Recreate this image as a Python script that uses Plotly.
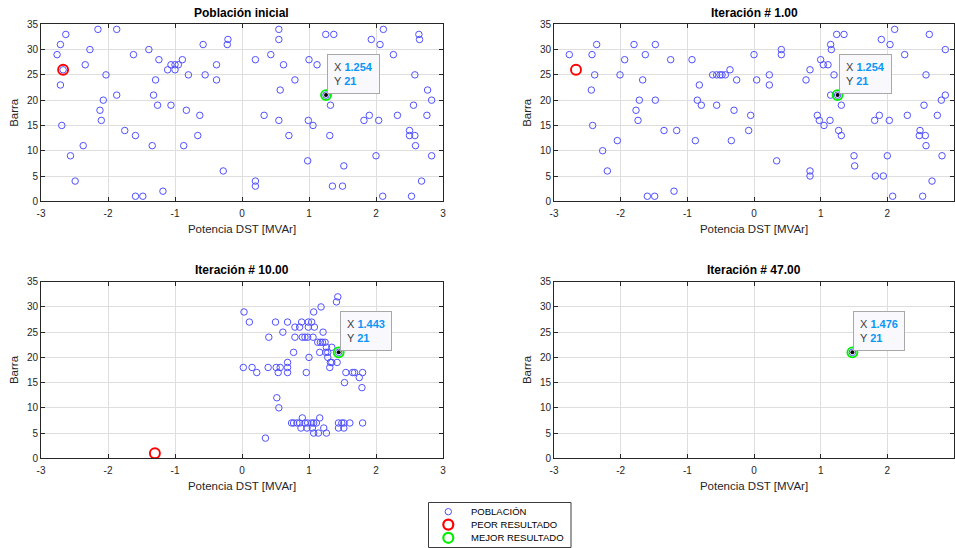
import plotly.graph_objects as go

FONT = "Arial, 'Liberation Sans', Helvetica, sans-serif"
W, H = 955, 548

# ---------------- data ----------------
titles = ["Población inicial", "Iteración # 1.00", "Iteración # 10.00", "Iteración # 47.00"]

# Población inicial
pop0_x = [-2.63, -2.71, -2.76, -2.27, -2.15, -1.87, -2.67, -2.34, -2.03, -2.71, -2.07, -1.87,
          -2.12, -2.10, -2.69, -1.75, -1.59, -2.37, -2.56, -2.49, -1.59, -1.48, -1.18, -1.62,
          -1.39, -1.24, -1.29, -1.32, -1.26, -1.06, -1.34, -1.11, -1.06, -1.00, -1.00, -0.95,
          -0.89, -0.80, -0.83, -0.87, -0.63, -0.66, -0.58, -0.55, -0.38, -0.38, -0.21, -0.22,
          -0.28,
          0.55, 0.55, 0.20, 0.43, 0.62, 0.79, 0.57, 1.00, 1.12, 1.25, 1.37, 1.254, 1.32, 0.33,
          0.55, 0.99, 1.06, 0.70, 1.31, 0.98, 1.52, 0.20, 0.20, 1.35, 1.50, 2.11, 1.93, 2.06,
          2.26, 2.64, 2.65, 2.58, 2.77, 2.83, 2.56, 2.76, 1.90, 1.82, 2.04, 2.32, 2.50, 2.50,
          2.58, 2.59, 2.00, 2.83, 2.68, 2.10, 2.53]
pop0_y = [33, 31, 29, 30, 34, 34, 26, 27, 25, 23, 20, 21,
          18, 16, 15, 14, 13, 11, 9, 4, 1, 1, 2, 29,
          30, 28, 24, 21, 19, 19, 11, 26, 27, 26, 27, 27,
          28, 25, 18, 11, 17, 13, 31, 25, 27, 24, 32, 31,
          6,
          34, 32, 28, 29, 27, 24, 22, 28, 27, 33, 33, 21, 19, 17,
          16, 16, 15, 13, 13, 8, 7, 4, 3, 3, 3, 34, 32, 31,
          29, 33, 32, 25, 22, 20, 19, 17, 17, 16, 16, 17, 14, 13,
          13, 11, 9, 9, 4, 1, 1]

# Iteración # 1
pop1_x = [-2.77, -2.43, -2.36, -2.39, -2.44, -2.42, -2.27, -2.20, -2.05, -2.01, -1.94, -1.80,
          -1.63, -1.48, -1.67, -1.72, -1.77, -1.74, -1.48, -1.35, -1.16, -1.60, -1.49, -1.20,
          -1.25, -0.93, -0.88, -0.82, -0.85, -0.79, -0.62, -0.56, -0.51, -0.48, -0.43, -0.36,
          -0.26, -0.56, -0.30, -0.34,
          -0.08, -0.05, 0.00, 0.04, 0.23, 0.23, 0.34, 0.41, 0.41, 0.78, 0.84, 0.84, 0.84, 0.95,
          0.98, 1.05, 1.14, 1.00, 1.04, 1.11, 1.20, 1.15, 1.16, 1.24, 1.35, 1.15, 1.254, 1.31,
          1.27, 1.31, 1.50, 1.51, 1.81, 1.88, 2.03, 1.82, 1.94, 2.00, 1.91, 2.04, 2.11, 2.26,
          2.30, 2.49, 2.48, 2.57, 2.58, 2.55, 2.58, 2.63, 2.67, 2.53, 2.08, 2.75, 2.81, 2.87,
          2.82, 2.87]
pop1_y = [29, 29, 31, 25, 22, 15, 10, 6, 12, 25, 28, 31,
          29, 31, 24, 20, 18, 16, 20, 14, 14, 1, 1, 2,
          28, 28, 12, 23, 20, 19, 25, 25, 25, 25, 25, 26,
          24, 19, 18, 12,
          14, 17, 29, 24, 25, 23, 8, 30, 29, 24, 26, 6, 5, 17,
          16, 15, 16, 28, 27, 27, 25, 31, 30, 33, 33, 21, 21, 19,
          14, 13, 9, 7, 16, 17, 16, 5, 5, 9, 32, 31, 34, 29,
          17, 14, 13, 13, 11, 19, 25, 33, 4, 1, 1, 17, 20, 21,
          9, 30]

# Iteración # 10
pop10_x = [1.43, 1.41, 1.18, 1.07, 0.03, 0.11, 0.50, 0.68, 0.89, 0.99, 1.04, 0.79,
           0.86, 0.99, 1.08, 0.61, 1.21, 0.40, 0.79, 0.90, 0.94, 0.98, 1.06, 1.13,
           1.17, 1.20, 1.24, 1.26, 1.34, 0.77, 1.16, 1.25, 1.28, 1.443, 1.00, 1.28,
           1.32, 1.34, 1.42, 1.31, 0.02, 0.15, 0.22, 0.39, 0.51, 0.57, 0.68, 0.68,
           0.54, 0.68, 0.96, 1.55, 1.65, 1.68, 1.80, 1.75, 1.53, 1.79, 0.52, 0.55,
           0.74, 0.77, 0.82, 0.86, 0.90, 0.94, 0.98, 1.04, 1.07, 1.11, 1.16, 0.88,
           0.97, 1.05, 1.22, 1.07, 1.14, 1.26, 1.44, 1.49, 1.52, 1.61, 1.80, 1.44,
           1.52, 0.35]
pop10_y = [32, 31, 30, 29, 29, 27, 27, 27, 27, 27, 27, 26,
           26, 26, 26, 25, 25, 24, 24, 24, 24, 24, 24, 23,
           23, 23, 23, 22, 22, 21, 21, 21, 21, 21, 20, 20,
           19, 19, 19, 18, 18, 18, 17, 18, 18, 18, 18, 19,
           17, 17, 17, 17, 17, 17, 17, 16, 15, 14, 12, 10,
           7, 7, 7, 7, 8, 7, 7, 7, 7, 7, 8, 6,
           6, 6, 6, 5, 5, 5, 7, 7, 7, 7, 7, 6,
           6, 4]

# Iteración # 47
pop47_x = [1.476]
pop47_y = [21]

pop_x = [pop0_x, pop1_x, pop10_x, pop47_x]
pop_y = [pop0_y, pop1_y, pop10_y, pop47_y]

worst_x = [[-2.67], [-2.67], [-1.30], []]
worst_y = [[26], [26], [1], []]
best_x = [1.254, 1.254, 1.443, 1.476]
best_y = [21, 21, 21, 21]

x_ticks = [-3, -2, -1, 0, 1, 2, 3]
y_ticks = [0, 5, 10, 15, 20, 25, 30, 35]

legend_labels = ["POBLACIÓN", "PEOR RESULTADO", "MEJOR RESULTADO"]

# ---------------- styles ----------------
BLUE = "rgb(80,80,255)"
RED = "rgb(255,0,0)"
GREEN = "rgb(0,240,0)"
TIPBLUE = "#0a96f5"
AXC = "#262626"
GRIDC = "#dedede"

# pixel boxes of the four axes: (left, right, top, bottom)
boxes = [(41, 443, 24.3, 201.3), (554, 954, 24.3, 201.3),
         (41, 443, 281.7, 458.3), (554, 954, 281.7, 458.3)]

fig = go.Figure()
layout = dict(width=W, height=H,
              margin=dict(l=0, r=0, t=0, b=0, pad=0, autoexpand=False),
              paper_bgcolor="white", plot_bgcolor="white", showlegend=False,
              font=dict(family=FONT, size=10, color=AXC))
annotations = []
shapes = []

for i in range(4):
    sfx = "" if i == 0 else str(i + 1)
    xa, ya = "x" + sfx, "y" + sfx
    l, r, t, b = boxes[i]
    layout["xaxis" + sfx] = dict(
        domain=[l / W, r / W], anchor=ya, range=[-3, 3], tickvals=x_ticks,
        ticktext=[str(v) for v in x_ticks], showgrid=True, gridcolor=GRIDC, gridwidth=1,
        zeroline=False, showline=True, linecolor=AXC, linewidth=1, mirror="ticks",
        ticks="inside", ticklen=4, tickcolor=AXC, tickfont=dict(size=10, color=AXC),
        ticklabelstandoff=3, automargin=False,
        title=dict(text="Potencia DST [MVAr]", font=dict(size=11.5, color=AXC), standoff=6))
    layout["yaxis" + sfx] = dict(
        domain=[1 - b / H, 1 - t / H], anchor=xa, range=[0, 35], tickvals=y_ticks,
        showgrid=True, gridcolor=GRIDC, gridwidth=1, zeroline=False, showline=True,
        linecolor=AXC, linewidth=1, mirror="ticks", ticks="inside", ticklen=4,
        tickcolor=AXC, tickfont=dict(size=10, color=AXC), automargin=False,
        title=dict(text="Barra", font=dict(size=11.5, color=AXC), standoff=5))

    # population
    fig.add_trace(go.Scatter(x=pop_x[i], y=pop_y[i], xaxis=xa, yaxis=ya, mode="markers",
                             marker=dict(symbol="circle-open", size=6.5, color=BLUE,
                                         line=dict(width=1, color=BLUE)),
                             name=legend_labels[0], hoverinfo="skip"))
    # worst
    if worst_x[i]:
        fig.add_trace(go.Scatter(x=worst_x[i], y=worst_y[i], xaxis=xa, yaxis=ya, mode="markers",
                                 marker=dict(symbol="circle-open", size=10, color=RED,
                                             line=dict(width=1.9, color=RED)),
                                 name=legend_labels[1], hoverinfo="skip"))
    # best
    fig.add_trace(go.Scatter(x=[best_x[i]], y=[best_y[i]], xaxis=xa, yaxis=ya, mode="markers",
                             marker=dict(symbol="circle-open", size=10, color=GREEN,
                                         line=dict(width=1.9, color=GREEN)),
                             name=legend_labels[2], hoverinfo="skip"))
    # data tip marker
    fig.add_trace(go.Scatter(x=[best_x[i]], y=[best_y[i]], xaxis=xa, yaxis=ya, mode="markers",
                             marker=dict(symbol="circle", size=4, color="black"),
                             hoverinfo="skip"))

    # data tip box
    tip = (f"X <b><span style='color:{TIPBLUE}'>{best_x[i]:.4g}</span></b><br>"
           f"Y <b><span style='color:{TIPBLUE}'>{best_y[i]:g}</span></b>")
    annotations.append(dict(x=best_x[i], y=best_y[i], xref=xa, yref=ya, text=tip,
                            showarrow=False, xanchor="left", yanchor="bottom", align="left",
                            xshift=1, yshift=1, font=dict(size=11, color="#404040", family=FONT),
                            bgcolor="#f9f9fd", bordercolor="#a8a8a8", borderwidth=1, borderpad=6))

    # subplot title
    annotations.append(dict(x=(l + r) / 2 / W, y=1 - (t - 11.5) / H, xref="paper", yref="paper",
                            text=f"<b>{titles[i]}</b>", showarrow=False, xanchor="center",
                            yanchor="middle", font=dict(size=12, color="black", family=FONT)))

# legend box drawn in pixel space
lg_l, lg_r, lg_t, lg_b = 428.5, 571, 502.5, 547.5
shapes.append(dict(type="rect", xref="paper", yref="paper", x0=lg_l / W, x1=lg_r / W,
                   y0=1 - lg_b / H, y1=1 - lg_t / H, line=dict(color="#3c3c3c", width=1),
                   fillcolor="white"))
leg_rows = [511.7, 524.6, 537.8]
leg_style = [(3.2, 1, BLUE), (5.0, 2.2, RED), (5.0, 2.2, GREEN)]
for yy, (rad, lw, col), lab in zip(leg_rows, leg_style, legend_labels):
    shapes.append(dict(type="circle", xref="paper", yref="paper",
                       xsizemode="pixel", ysizemode="pixel",
                       xanchor=448.3 / W, yanchor=1 - yy / H,
                       x0=-rad, x1=rad, y0=-rad, y1=rad, line=dict(color=col, width=lw)))
    annotations.append(dict(x=469 / W, y=1 - yy / H, xref="paper", yref="paper", text=lab,
                            showarrow=False, xanchor="left", yanchor="middle",
                            font=dict(size=9.5, color="black", family=FONT)))

layout["annotations"] = annotations
layout["shapes"] = shapes
fig.update_layout(**layout)

# page without the default body margin so the figure fills the window exactly
fig.write_html("out.html",
               post_script="document.body.style.margin='0';document.body.style.overflow='hidden';")
